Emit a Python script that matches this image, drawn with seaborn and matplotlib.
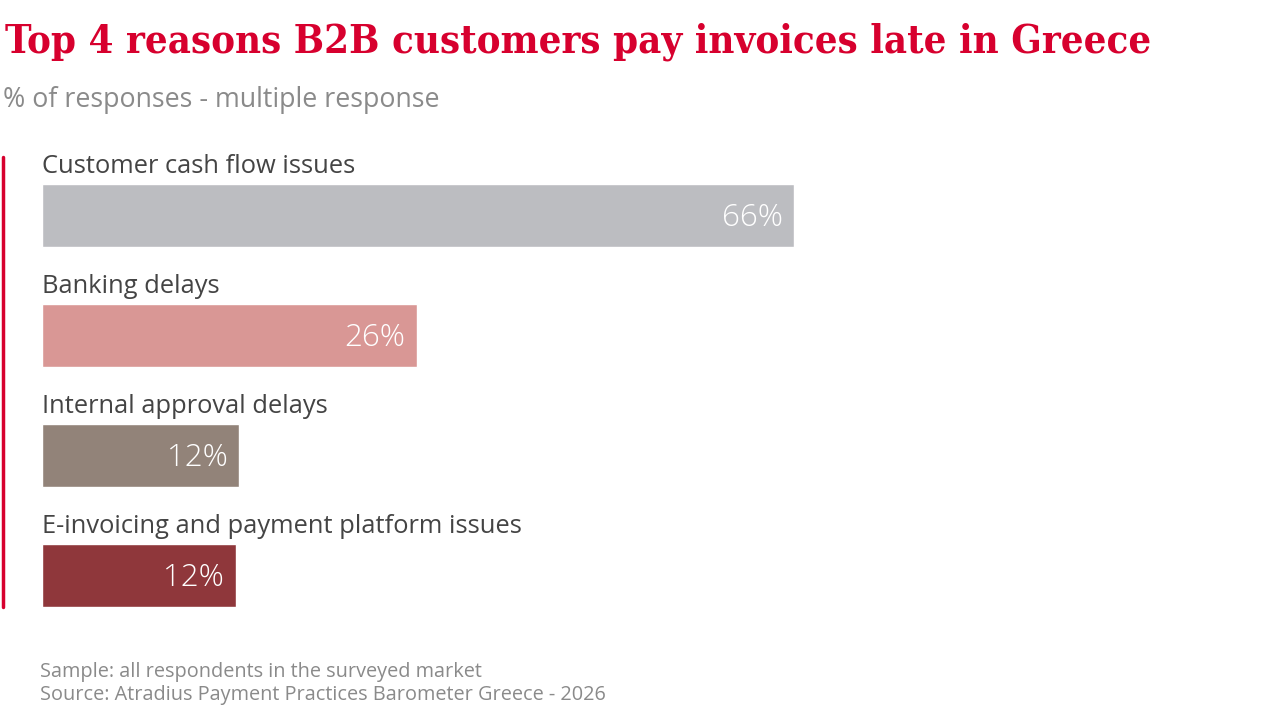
import matplotlib
matplotlib.use("Agg")
import matplotlib.pyplot as plt
import seaborn as sns
import pandas as pd
from matplotlib.lines import Line2D

categories = ["Customer cash flow issues", "Banking delays",
              "Internal approval delays", "E-invoicing and payment platform issues"]
values = [66, 26, 12, 12]
value_labels = ["66%", "26%", "12%", "12%"]
# bar lengths as drawn in the reference (on the scale of the 66% bar)
bar_lengths = [66, 32.9, 17.3, 17.0]
colors = ["#bcbdc1", "#d99795", "#928379", "#8f373b"]

title = "Top 4 reasons B2B customers pay invoices late in Greece"
subtitle = "% of responses - multiple response"
footer = ["Sample: all respondents in the surveyed market",
          "Source: Atradius Payment Practices Barometer Greece - 2026"]

RED = "#d7002e"
W, H = 1280, 720

sns.set_theme(style="white")
plt.rcParams['font.family'] = ['Open Sans', 'DejaVu Sans']

fig = plt.figure(figsize=(12.8, 7.2), dpi=100)

df = pd.DataFrame({"cat": categories, "len": bar_lengths})

# axes: x 42 -> 794 px for 0..66; y 184 -> 607 px
ax = fig.add_axes([42 / W, 113 / H, 752 / W, 423 / H])
sns.barplot(data=df, x="len", y="cat", hue="cat", palette=colors, legend=False,
            orient="h", width=63 / 120, ax=ax, saturation=1)
ax.set_xlim(0, 66)
ax.set_ylim(3 + 0.2625, -0.2625)
ax.set_axis_off()

for i, (cat, L, lab) in enumerate(zip(categories, bar_lengths, value_labels)):
    ax.text(0, i - 0.2625 - 0.09, cat, ha="left", va="baseline",
            fontsize=18.4, color="#444444", clip_on=False)
    ax.text(L - 1.0, i + 0.02, lab, ha="right", va="center",
            fontsize=22.5, fontweight="light", color="white", clip_on=False)

t = fig.text(5 / W, 1 - 42 / H, title, ha="left", va="center",
             fontsize=28, fontweight="bold", color=RED,
             family=["DejaVu Serif"], fontstretch="condensed")
# fit title to the reference width (5 -> 1152 px)
fig.canvas.draw()
bb = t.get_window_extent()
t.set_fontsize(28 * 1147 / bb.width)

fig.text(3 / W, 1 - 100 / H, subtitle, ha="left", va="center",
         fontsize=19.3, color="#8a8a8a")

fig.add_artist(Line2D([3 / W, 3 / W], [1 - 157 / H, 1 - 607 / H],
                      color=RED, lw=2.5, transform=fig.transFigure))

fig.text(40 / W, 1 - 672 / H, footer[0], ha="left", va="center",
         fontsize=14.3, color="#8a8a8a")
fig.text(40 / W, 1 - 695 / H, footer[1], ha="left", va="center",
         fontsize=14.3, color="#8a8a8a")

fig.savefig("out.png", dpi=100, facecolor="white")
